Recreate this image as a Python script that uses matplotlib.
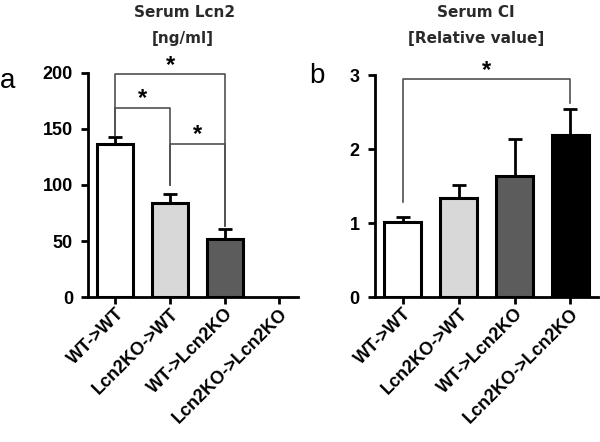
import matplotlib
matplotlib.use('Agg')
import matplotlib.pyplot as plt
import numpy as np

groups = ['WT->WT', 'Lcn2KO->WT', 'WT->Lcn2KO', 'Lcn2KO->Lcn2KO']
colors = ['white', '#d8d8d8', '#5c5c5c', 'black']

# panel a: Serum Lcn2 (no value for last group)
lcn2_mean = [137, 84, 52]
lcn2_err = [6, 8, 9]

# panel b: Serum CI
ci_mean = [1.01, 1.34, 1.63, 2.19]
ci_err = [0.07, 0.17, 0.51, 0.35]

# significance brackets: (left group, right group, bar height, left leg end, right leg end, star y)
lcn2_sig = [(0, 2, 199, 145, 63, 207),
            (0, 1, 169, 145, 100, 177),
            (1, 2, 137, 100, 63, 145)]
ci_sig = [(0, 3, 2.95, 1.28, 2.62, 3.06)]

plt.rcParams['font.family'] = ['Liberation Sans', 'DejaVu Sans']
plt.rcParams['font.weight'] = 'bold'

fig = plt.figure(figsize=(6, 4.42), dpi=100)
ax1 = fig.add_axes([0.147, 0.328, 0.35, 0.507])
ax2 = fig.add_axes([0.625, 0.328, 0.372, 0.502])


def style_axis(ax):
    ax.spines['top'].set_visible(False)
    ax.spines['right'].set_visible(False)
    ax.spines['left'].set_linewidth(2)
    ax.spines['bottom'].set_linewidth(2)
    ax.tick_params(width=2, length=5)
    ax.tick_params(axis='y', labelsize=13, pad=6)
    ax.tick_params(axis='x', pad=1)
    ax.set_xticks(range(len(groups)))
    ax.set_xticklabels(groups, rotation=45, ha='right', rotation_mode='anchor', fontsize=13, fontweight='bold')
    for lab in ax.get_yticklabels():
        lab.set_fontweight('bold')


def draw_sig(ax, sig, star_size):
    for l, r, h, yl, yr, ys in sig:
        ax.plot([l, l, r, r], [yl, h, h, yr], color='#505050', lw=1.2, clip_on=False, zorder=1)
        ax.text((l + r) / 2, ys, '*', ha='center', va='center', fontsize=star_size, fontweight='bold')


x1 = np.arange(len(lcn2_mean))
ax1.bar(x1, lcn2_mean, width=0.66, color=colors[:3], edgecolor='black', linewidth=2.2, zorder=3)
ax1.errorbar(x1, lcn2_mean, yerr=[np.zeros(3), lcn2_err], fmt='none', ecolor='black', elinewidth=2, capsize=5, capthick=2, zorder=2)
ax1.set_xlim(-0.5, 3.35)
ax1.set_ylim(0, 200)
ax1.set_yticks([0, 50, 100, 150, 200])
style_axis(ax1)
draw_sig(ax1, lcn2_sig, 17)

x2 = np.arange(len(ci_mean))
ax2.bar(x2, ci_mean, width=0.66, color=colors, edgecolor='black', linewidth=2.2, zorder=3)
ax2.errorbar(x2, ci_mean, yerr=[np.zeros(4), ci_err], fmt='none', ecolor='black', elinewidth=2, capsize=5, capthick=2, zorder=2)
ax2.set_xlim(-0.5, 3.5)
ax2.set_ylim(0, 3)
ax2.set_yticks([0, 1, 2, 3])
style_axis(ax2)
draw_sig(ax2, ci_sig, 17)

# titles
tfont = dict(fontsize=11, fontweight='bold', color='#2a2a2a', ha='center', va='center', family='DejaVu Sans')
fig.text(0.307, 0.972, 'Serum Lcn2', **tfont)
fig.text(0.305, 0.912, '[ng/ml]', **tfont)
fig.text(0.793, 0.972, 'Serum CI', **tfont)
fig.text(0.793, 0.912, '[Relative value]', **tfont)

fig.text(0.0, 0.80, 'a', fontsize=20, fontweight='normal', va='baseline')
fig.text(0.515, 0.812, 'b', fontsize=20, fontweight='normal', va='baseline')

fig.savefig('out.png', dpi=100)
